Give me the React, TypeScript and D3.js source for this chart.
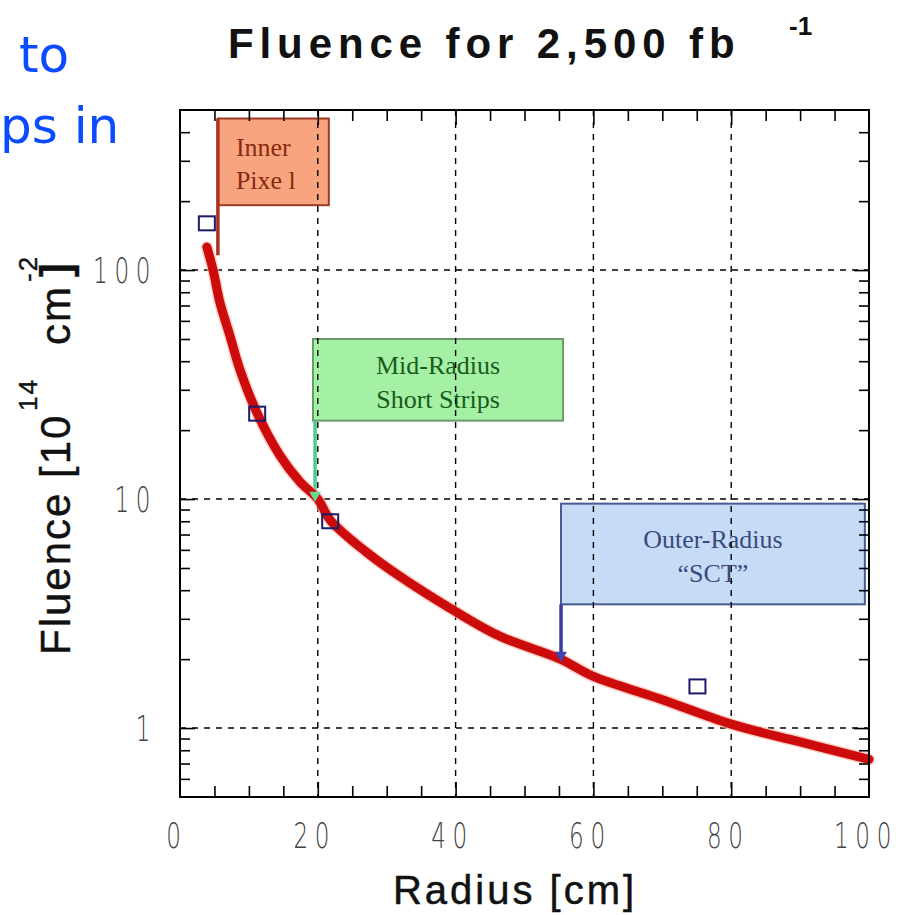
import { useEffect, useRef } from 'react';
import * as d3 from 'd3';

// fluence curve (radius in cm, fluence in 1e14 cm^-2)
const curveRadius = [3.9, 4.8, 5.8, 7.3, 8.7, 11.2, 14.5, 17.4, 20, 21.8, 27.1, 31.9, 40.2, 46.4, 55.2, 60, 69.7, 80, 90, 100];
const curveFluence = [126, 100, 72, 51, 36.7, 23.7, 15.5, 11.9, 10, 8.1, 5.85, 4.6, 3.2, 2.52, 2.0, 1.68, 1.34, 1.04, 0.87, 0.73];

// open square markers
const pointRadius = [3.9, 11.2, 21.8, 75.1];
const pointFluence = [160, 23.6, 8.0, 1.52];

// axis ticks
const xLabels = [0, 20, 40, 60, 80, 100];
const xMajor = [20, 40, 60, 80];
const xMinor = [5, 10, 15, 25, 30, 35, 45, 50, 55, 65, 70, 75, 85, 90, 95];
const yLabels = [1, 10, 100];
const yMinor = [0.6, 0.7, 0.8, 0.9, 2, 3, 4, 5, 6, 7, 8, 9, 20, 30, 40, 50, 60, 70, 80, 90, 200, 300, 400];

// annotation boxes: [r0, r1] x [f0, f1], pointer to (pointerR, pointerF)
const boxNames = ['inner', 'mid', 'outer'];
const boxLines = [['Inner', 'Pixe l'], ['Mid-Radius', 'Short Strips'], ['Outer-Radius', '\u201cSCT\u201d']];
const boxR0 = [5.5, 19.3, 55.3];
const boxR1 = [21.6, 55.6, 99.4];
const boxF0 = [192, 22, 3.47];
const boxF1 = [459, 50, 9.55];
const pointerR = [5.5, 19.6, 55.3];
const pointerF = [116, 10, 2.0];

const boxFill = ['#f8a47e', '#a4f0a4', '#c6dcf6'];
const boxStroke = ['#9a3a22', '#6a9a6a', '#4a5a92'];
const boxText = ['#8a2810', '#1c5a1c', '#3a4a7e'];
const pointerColor = ['#a83222', '#52c890', '#3a3a9c'];

function App() {
  const svgRef = useRef<SVGSVGElement>(null);

  useEffect(() => {
    const svg = d3.select(svgRef.current);
    svg.selectAll('*').remove();

    const x = d3.scaleLinear().domain([0, 100]).range([180, 869]);
    const y = d3.scaleLog().domain([0.5, 500]).range([797, 110]);

    // annotation boxes
    boxNames.forEach((name, i) => {
      const g = svg.append('g').attr('class', name);
      const x0 = x(boxR0[i]), x1 = x(boxR1[i]);
      const y0 = y(boxF1[i]), y1 = y(boxF0[i]);
      g.append('rect')
        .attr('x', x0).attr('y', y0)
        .attr('width', x1 - x0).attr('height', y1 - y0)
        .attr('fill', boxFill[i])
        .attr('stroke', boxStroke[i])
        .attr('stroke-width', 2);
      const cx = i === 0 ? x0 + 18 : (x0 + x1) / 2;
      const lineGap = i === 0 ? 33 : 34;
      const first = i === 0 ? y0 + 37 : (y0 + y1) / 2 - 6;
      boxLines[i].forEach((t, j) => {
        g.append('text')
          .attr('x', cx)
          .attr('y', first + j * lineGap)
          .attr('text-anchor', i === 0 ? 'start' : 'middle')
          .attr('font-family', 'Liberation Serif, serif')
          .attr('font-size', 26)
          .attr('fill', boxText[i])
          .text(t);
      });
    });

    // dashed grid
    const grid = svg.append('g')
      .attr('stroke', '#000')
      .attr('stroke-width', 1.4)
      .attr('stroke-dasharray', '6,6');
    grid.selectAll('.vx').data(xMajor).enter().append('line')
      .attr('x1', d => x(d)).attr('x2', d => x(d))
      .attr('y1', 110).attr('y2', 797);
    grid.selectAll('.hy').data(yLabels).enter().append('line')
      .attr('x1', 180).attr('x2', 869)
      .attr('y1', d => y(d)).attr('y2', d => y(d));

    // pointers
    boxNames.forEach((name, i) => {
      const px = x(pointerR[i]);
      svg.append('line')
        .attr('x1', px).attr('x2', px)
        .attr('y1', i === 0 ? y(boxF1[i]) : y(boxF0[i]))
        .attr('y2', y(pointerF[i]) - (i === 0 ? 0 : 6))
        .attr('stroke', pointerColor[i])
        .attr('stroke-width', 3.5);
    });

    // red fluence curve
    const line = d3.line<number>()
      .x((d, i) => x(curveRadius[i]))
      .y(d => y(d))
      .curve(d3.curveCatmullRom.alpha(0.5));
    svg.append('path')
      .datum(curveFluence)
      .attr('d', line)
      .attr('fill', 'none')
      .attr('stroke', '#ffb0a0')
      .attr('stroke-width', 12)
      .attr('stroke-linecap', 'round')
      .attr('opacity', 0.6);
    svg.append('path')
      .datum(curveFluence)
      .attr('d', line)
      .attr('fill', 'none')
      .attr('stroke', '#cc0c0c')
      .attr('stroke-width', 9)
      .attr('stroke-linecap', 'round');

    // arrow heads for mid and outer pointers
    [1, 2].forEach(i => {
      svg.append('path')
        .attr('d', d3.symbol(d3.symbolTriangle, 60)())
        .attr('transform', `translate(${x(pointerR[i])},${y(pointerF[i]) - 4}) rotate(180)`)
        .attr('fill', i === 1 ? '#6ad890' : '#4444b8');
    });

    // square markers
    svg.selectAll('.pt').data(pointFluence).enter().append('rect')
      .attr('x', (d, i) => x(pointRadius[i]) - 8)
      .attr('y', d => y(d) - 7)
      .attr('width', 16).attr('height', 14)
      .attr('fill', 'none')
      .attr('stroke', '#1c1a6a')
      .attr('stroke-width', 2);

    // ticks on all four sides
    const tickG = (g: any) => {
      g.select('.domain').remove();
      g.selectAll('line').attr('stroke', '#000').attr('stroke-width', 1.6);
    };
    svg.append('g').attr('transform', 'translate(0,797)')
      .call(d3.axisBottom(x).tickValues(xMinor).tickSize(-11).tickFormat(() => '')).call(tickG);
    svg.append('g').attr('transform', 'translate(0,797)')
      .call(d3.axisBottom(x).tickValues(xMajor).tickSize(-15).tickFormat(() => '')).call(tickG);
    svg.append('g').attr('transform', 'translate(0,110)')
      .call(d3.axisTop(x).tickValues(xMinor).tickSize(-11).tickFormat(() => '')).call(tickG);
    svg.append('g').attr('transform', 'translate(0,110)')
      .call(d3.axisTop(x).tickValues(xMajor).tickSize(-15).tickFormat(() => '')).call(tickG);
    svg.append('g').attr('transform', 'translate(180,0)')
      .call(d3.axisLeft(y).tickValues(yMinor).tickSize(-10).tickFormat(() => '')).call(tickG);
    svg.append('g').attr('transform', 'translate(180,0)')
      .call(d3.axisLeft(y).tickValues(yLabels).tickSize(-15).tickFormat(() => '')).call(tickG);
    svg.append('g').attr('transform', 'translate(869,0)')
      .call(d3.axisRight(y).tickValues(yMinor).tickSize(-10).tickFormat(() => '')).call(tickG);
    svg.append('g').attr('transform', 'translate(869,0)')
      .call(d3.axisRight(y).tickValues(yLabels).tickSize(-15).tickFormat(() => '')).call(tickG);

    // frame
    svg.append('rect')
      .attr('x', 180).attr('y', 110)
      .attr('width', 689).attr('height', 687)
      .attr('fill', 'none')
      .attr('stroke', '#000')
      .attr('stroke-width', 2);

    // tick labels (thin, narrow digits)
    const tickText = (g: any, tx: number, ty: number, s: string, anchor: string) => {
      g.append('g')
        .attr('transform', `translate(${tx},${ty}) scale(0.66,1)`)
        .append('text')
        .attr('text-anchor', anchor)
        .attr('font-family', 'DejaVu Sans, sans-serif')
        .attr('font-weight', 200)
        .attr('font-size', 35)
        .attr('letter-spacing', 10)
        .attr('fill', '#444')
        .text(s);
    };
    xLabels.forEach(v => tickText(svg, x(v) - 3, 848, String(v), 'middle'));
    yLabels.forEach(v => tickText(svg, 157, y(v) + 13, String(v), 'end'));

    // title
    svg.append('text')
      .attr('x', 228).attr('y', 58)
      .attr('font-family', 'Liberation Sans, Arial, sans-serif')
      .attr('font-weight', 'bold')
      .attr('font-size', 42)
      .attr('letter-spacing', 5.9)
      .attr('fill', '#111')
      .text('Fluence for 2,500 fb');
    svg.append('text')
      .attr('x', 789).attr('y', 35)
      .attr('font-family', 'Liberation Sans, Arial, sans-serif')
      .attr('font-weight', 'bold')
      .attr('font-size', 26)
      .attr('fill', '#111')
      .text('-1');

    // axis titles
    svg.append('text')
      .attr('x', 515).attr('y', 904)
      .attr('text-anchor', 'middle')
      .attr('font-family', 'Liberation Sans, Arial, sans-serif')
      .attr('font-size', 40)
      .attr('letter-spacing', 3)
      .attr('fill', '#111')
      .attr('stroke', '#111')
      .attr('stroke-width', 0.5)
      .text('Radius [cm]');

    const yl = svg.append('g')
      .attr('transform', 'translate(70,655) rotate(-90)')
      .append('text')
      .attr('font-family', 'Liberation Sans, Arial, sans-serif')
      .attr('font-size', 42)
      .attr('letter-spacing', 2)
      .attr('fill', '#111')
      .attr('stroke', '#111')
      .attr('stroke-width', 0.4);
    yl.append('tspan').attr('x', 0).attr('y', 0).text('Fluence [10');
    yl.append('tspan').attr('x', 244).attr('y', -33).attr('font-size', 26).text('14');
    yl.append('tspan').attr('x', 310).attr('y', 0).text('cm');
    yl.append('tspan').attr('x', 373).attr('y', -33).attr('font-size', 26).text('-2');
    yl.append('tspan').attr('x', 378).attr('y', 0).attr('font-weight', 'bold').text(']');

    // fragment of slide text on the left
    svg.append('text').attr('x', 19).attr('y', 72)
      .attr('font-family', 'DejaVu Sans, sans-serif').attr('font-size', 50)
      .attr('fill', '#0a4bff').text('to');
    svg.append('text').attr('x', 0).attr('y', 143)
      .attr('font-family', 'DejaVu Sans, sans-serif').attr('font-size', 50)
      .attr('fill', '#0a4bff').text('ps in');
  }, []);

  return (
    <div style={{ position: 'absolute', left: 0, top: 0 }}>
      <svg ref={svgRef} width={900} height={915} style={{ display: 'block', background: '#fff' }}></svg>
    </div>
  );
}

export default App;
